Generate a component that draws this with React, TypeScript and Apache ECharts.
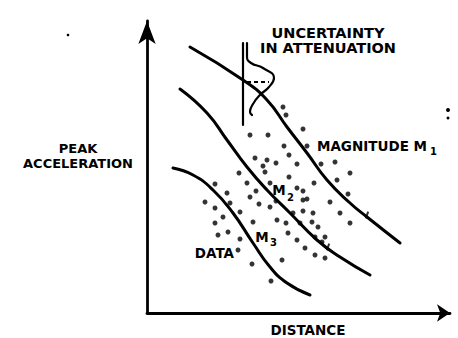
import React, { useEffect, useRef } from "react";
import * as echarts from "echarts";

// Abstract units: distance (x) and peak acceleration (y).
const curveM1: number[][] = [[43, 266], [96, 233], [120, 213], [140, 186], [160, 160], [180, 133], [203, 110], [220, 96], [253, 70]];
const curveM2: number[][] = [[33, 224], [60, 200], [80, 173], [100, 146], [120, 123], [143, 100], [170, 73], [193, 56], [223, 38]];
const curveM3: number[][] = [[26, 145], [46, 138], [66, 123], [86, 100], [106, 70], [123, 46], [140, 30], [163, 18]];

const spreadAxis: number[][] = [[96, 270], [96, 188]];
const spreadCurve: number[][] = [[100, 270], [100, 256], [104, 250], [116, 245], [127, 235], [122, 226], [113, 218], [106, 209], [103, 201], [105, 198]];
const spreadMean: number[][] = [[100, 231], [122, 231]];

const curveTicks: number[][] = [[220, 98], [181, 66]];

const dataPoints: number[][] = [
  [136, 206], [139, 198], [156, 184], [103, 178], [121, 178], [137, 167], [160, 167], [142, 158],
  [108, 155], [120, 153], [116, 147], [129, 150], [150, 149], [174, 149], [188, 151],
  [92, 140], [118, 141], [142, 136], [167, 130], [190, 133], [203, 140],
  [68, 129], [100, 130], [123, 130], [150, 125], [156, 122], [80, 120], [109, 122], [201, 119],
  [58, 111], [83, 110], [103, 116], [129, 112], [156, 113], [160, 114], [183, 111],
  [68, 105], [93, 101], [112, 109], [123, 106], [146, 100], [156, 102], [166, 100], [193, 100],
  [76, 96], [68, 90], [106, 91], [130, 93], [139, 90], [153, 90], [165, 91], [171, 86], [203, 90],
  [81, 81], [71, 78], [93, 74], [141, 80], [150, 73], [168, 76], [178, 76], [175, 71],
  [158, 65], [91, 63], [168, 58], [178, 55], [105, 49], [135, 53], [124, 32]
];

const labelUncertainty = "UNCERTAINTY\nIN ATTENUATION";
const labelYAxis = "PEAK\nACCELERATION";
const labelXAxis = "DISTANCE";
const labelM1 = "MAGNITUDE M";
const labelData = "DATA";

const FONT = "'DejaVu Sans', 'Liberation Sans', sans-serif";

export default function App() {
  const ref = useRef<HTMLDivElement>(null);
  useEffect(() => {
    if (!ref.current) return;
    const chart = echarts.init(ref.current, undefined, { renderer: "svg" });
    const txt = (text: string, x: number, y: number, size: number, align: string = "center", lineHeight?: number) => ({
      type: "text",
      x,
      y,
      silent: true,
      style: {
        text,
        fill: "#000",
        fontFamily: FONT,
        fontWeight: "bold",
        fontSize: size,
        lineHeight: lineHeight ?? size + 2,
        align,
        verticalAlign: "middle",
      },
    });
    const curve = (data: number[][], width = 3) => ({
      type: "line",
      data,
      smooth: true,
      symbol: "none",
      lineStyle: { color: "#000", width, cap: "round" },
      silent: true,
    });
    chart.setOption({
      animation: false,
      backgroundColor: "#fff",
      grid: { left: 147, right: 8, top: 21, bottom: 25 },
      xAxis: {
        type: "value",
        min: 0,
        max: 303,
        axisLine: {
          show: true,
          onZero: false,
          symbol: ["none", "arrow"],
          symbolSize: [13, 13],
          lineStyle: { color: "#000", width: 2.8 },
        },
        axisTick: { show: false },
        axisLabel: { show: false },
        splitLine: { show: false },
      },
      yAxis: {
        type: "value",
        min: 0,
        max: 292,
        axisLine: {
          show: true,
          onZero: false,
          symbol: ["none", "arrow"],
          symbolSize: [13, 23],
          lineStyle: { color: "#000", width: 2.8 },
        },
        axisTick: { show: false },
        axisLabel: { show: false },
        splitLine: { show: false },
      },
      series: [
        curve(curveM1),
        curve(curveM2),
        curve(curveM3),
        curve(spreadAxis, 2.2),
        curve(spreadCurve, 2.2),
        {
          type: "line",
          data: spreadMean,
          symbol: "none",
          silent: true,
          lineStyle: { color: "#000", width: 2.2, type: [4, 3] },
        },
        {
          type: "scatter",
          data: curveTicks,
          symbol: "rect",
          symbolSize: [2, 7],
          symbolRotate: -20,
          silent: true,
          itemStyle: { color: "#000" },
        },
        {
          type: "scatter",
          data: dataPoints,
          symbol: "circle",
          symbolSize: 5,
          silent: true,
          itemStyle: { color: "#000" },
        },
      ],
      graphic: [
        txt(labelUncertainty, 328, 40.5, 14.5, "center", 15),
        txt(labelYAxis, 78, 156, 13, "center", 15),
        txt(labelM1, 427, 146, 13.5, "right"),
        txt("1", 430, 151, 10, "left"),
        txt("M", 279, 190, 13.5),
        txt("2", 287, 197, 10, "left"),
        txt("M", 262, 237, 13.5),
        txt("3", 270, 242, 10, "left"),
        txt(labelData, 234, 252.5, 13.5, "right"),
        txt(labelXAxis, 308, 330, 13.5),
        { type: "circle", silent: true, shape: { cx: 68, cy: 35, r: 1.3 }, style: { fill: "#000" } },
        { type: "circle", silent: true, shape: { cx: 448, cy: 110, r: 2 }, style: { fill: "#000" } },
        { type: "circle", silent: true, shape: { cx: 448, cy: 118, r: 1.5 }, style: { fill: "#000" } },
      ],
    });
    return () => chart.dispose();
  }, []);
  return (
    <div
      ref={ref}
      style={{ position: "fixed", left: 0, top: 0, width: 458, height: 338, background: "#fff" }}
    />
  );
}
